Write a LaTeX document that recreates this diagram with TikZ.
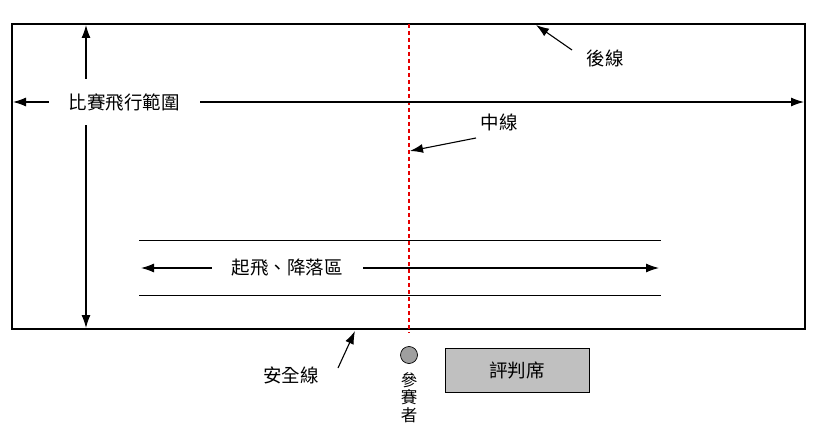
\documentclass[tikz,border=0pt]{standalone}
\usepackage{fontspec}
\newfontfamily\cjk{Noto Sans CJK TC}
\usetikzlibrary{arrows.meta}
\begin{document}
\begin{tikzpicture}[x=1pt,y=-1pt,
  lbl/.style={font=\cjk\fontsize{18.5}{18.5}\selectfont, inner sep=2pt},
  arr/.style={-{Latex[length=13pt,width=9pt]}, line width=1.1pt},
  darr/.style={{Latex[length=13pt,width=9pt]}-{Latex[length=13pt,width=9pt]}, line width=1.1pt}]
\useasboundingbox (0,0) rectangle (821,444);
% field
\draw[line width=2.6pt] (12,24) rectangle (805,329);
% centre line
\coordinate (ct) at (409,24);
\coordinate (cb) at (409,333);
\draw[color={rgb,255:red,230;green,0;blue,0}, dash pattern=on 4pt off 3pt, line width=1.3pt] (ct) -- (cb);
% landing zone
\coordinate (l1a) at (139,240); \coordinate (l1b) at (661,240);
\coordinate (l2a) at (139,295); \coordinate (l2b) at (661,295);
\draw[line width=1pt] (l1a) -- (l1b);
\draw[line width=1pt] (l2a) -- (l2b);
\coordinate (za) at (141,268); \coordinate (zb) at (659,268);
\draw[darr] (za) -- (zb);
\node[lbl, fill=white, inner xsep=20pt] (zone) at (287,268) {起飛、降落區};
% vertical flight range arrow
\coordinate (va) at (86,25); \coordinate (vb) at (86,328);
\draw[darr] (va) -- (vb);
% horizontal flight range arrow
\coordinate (ha) at (13,102); \coordinate (hb) at (804,102);
\draw[darr] (ha) -- (hb);
\node[lbl, fill=white, inner xsep=20pt, inner ysep=14pt] (range) at (124,102) {比賽飛行範圍};
% labels with pointers
\node[lbl] (back) at (605,58) {後線};
\coordinate (backpt) at (536,25);
\draw[arr] (572,50) -- (backpt);
\node[lbl] (mid) at (499,122) {中線};
\coordinate (midpt) at (410,151);
\draw[arr] (476,138) -- (midpt);
\node[lbl] (safe) at (291,375) {安全線};
\coordinate (safept) at (355,331);
\draw[arr] (338,368) -- (safept);
% participant
\node[circle, draw, fill=gray!75, minimum size=17pt, inner sep=0pt, line width=0.7pt] (p) at (409,355) {};
\node[font=\cjk\fontsize{16.5}{17.5}\selectfont, align=center, anchor=north, inner sep=0pt] (pl) at (409,372) {參\\賽\\者};
% judges
\node[draw, fill={rgb,255:red,192;green,192;blue,192}, line width=0.8pt, minimum width=144pt, minimum height=44pt, lbl] (judge) at (517,370) {評判席};
\end{tikzpicture}
\end{document}
